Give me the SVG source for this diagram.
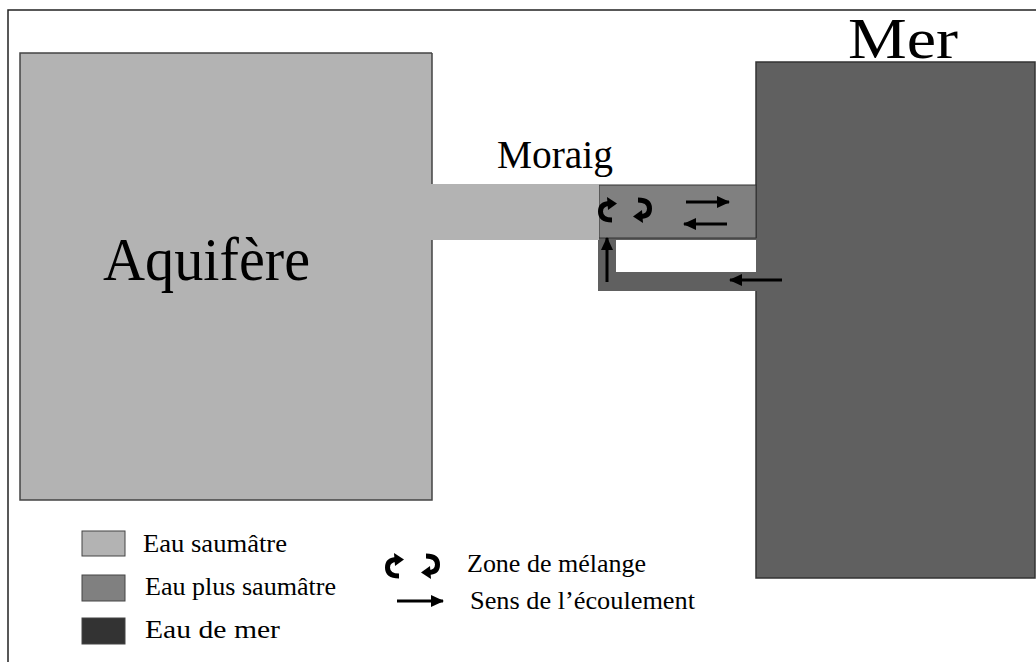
<svg xmlns="http://www.w3.org/2000/svg" width="1036" height="662" viewBox="0 0 1036 662">
<style>
text{font-family:"Liberation Serif","Times New Roman",serif;fill:#000}
.lg{font-size:25px}
.fl{stroke:#000;stroke-width:3;fill:none}
.sw{stroke:#000;stroke-width:5;fill:none}
</style>
<defs>
<marker id="ah" viewBox="0 0 13 12" refX="12" refY="6" markerWidth="13" markerHeight="12" markerUnits="userSpaceOnUse" orient="auto">
<path d="M0,0 L13,6 L0,12 Z" fill="#000"/>
</marker>
<g id="swirl">
<path class="sw" d="M12,7.5 C5,7.5 2.5,11 2.5,15.5 C2.5,21 6,24 14,24"/>
<path d="M9,1 L19,7.5 L10,14 Z" fill="#000"/>
</g>
</defs>
<rect x="8" y="10" width="1040" height="670" fill="#fff" stroke="#222" stroke-width="1.5"/>
<g id="mer">
<rect x="756" y="62" width="279" height="516" fill="#606060" stroke="#333" stroke-width="1.5"/>
<text x="848" y="58" font-size="58" textLength="110" lengthAdjust="spacingAndGlyphs">Mer</text>
</g>
<g id="boucle">
<rect x="598" y="238" width="159" height="53" fill="#606060"/>
<rect x="616" y="240" width="140" height="32" fill="#fff"/>
</g>
<g id="canal-melange">
<rect x="599" y="185" width="157" height="53" fill="#808080" stroke="#333" stroke-width="1"/>
</g>
<g id="moraig">
<rect x="431" y="184" width="168" height="56" fill="#b3b3b3"/>
<text x="497" y="168" font-size="40" textLength="116" lengthAdjust="spacingAndGlyphs">Moraig</text>
</g>
<g id="aquifere">
<path d="M432,53 L20,53 L20,500 L432,500 L432,240 M432,184 L432,53" fill="#b3b3b3" stroke="#444" stroke-width="1.5"/>
<text x="103" y="280" font-size="62" textLength="207" lengthAdjust="spacingAndGlyphs">Aquifère</text>
</g>
<g id="connecteurs">
<line class="fl" x1="686" y1="202" x2="729" y2="202" marker-end="url(#ah)"/>
<line class="fl" x1="727" y1="224" x2="684" y2="224" marker-end="url(#ah)"/>
<line class="fl" x1="607" y1="282" x2="607" y2="238" marker-end="url(#ah)"/>
<line class="fl" x1="782" y1="280" x2="730" y2="280" marker-end="url(#ah)"/>
<use href="#swirl" transform="translate(598,196)"/>
<use href="#swirl" transform="translate(652,224) rotate(180)"/>
</g>
<g id="legende">
<rect x="82" y="531" width="43" height="25" fill="#b3b3b3" stroke="#444" stroke-width="1"/>
<rect x="82" y="575" width="43" height="26" fill="#808080" stroke="#444" stroke-width="1"/>
<rect x="82" y="618" width="43" height="26" fill="#333333" stroke="#444" stroke-width="1"/>
<text class="lg" x="143" y="552" textLength="144" lengthAdjust="spacingAndGlyphs">Eau saumâtre</text>
<text class="lg" x="145" y="595" textLength="191" lengthAdjust="spacingAndGlyphs">Eau plus saumâtre</text>
<text class="lg" x="145" y="638" textLength="135" lengthAdjust="spacingAndGlyphs">Eau de mer</text>
<use href="#swirl" transform="translate(385,552)"/>
<use href="#swirl" transform="translate(440,580) rotate(180)"/>
<text class="lg" x="467" y="572" textLength="179" lengthAdjust="spacingAndGlyphs">Zone de mélange</text>
<line class="fl" x1="397" y1="601" x2="443" y2="601" marker-end="url(#ah)"/>
<text class="lg" x="470" y="609" textLength="225" lengthAdjust="spacingAndGlyphs">Sens de l’écoulement</text>
</g>
</svg>
